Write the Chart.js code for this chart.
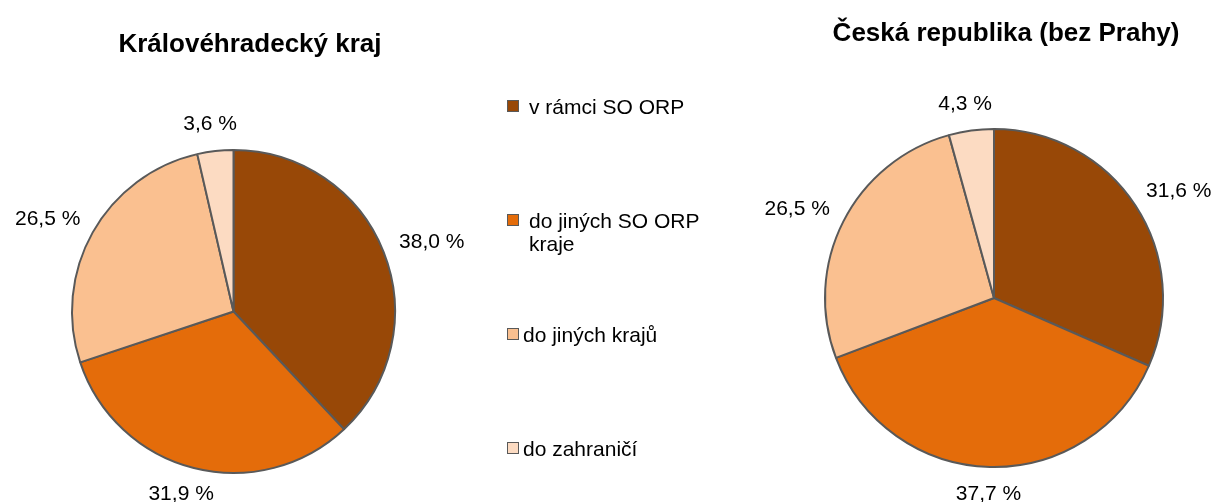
<!DOCTYPE html>
<html>
<head>
<meta charset="utf-8">
<script src="https://cdn.jsdelivr.net/npm/chart.js@4.4.1/dist/chart.umd.min.js"></script>
<style>
  html, body { margin: 0; padding: 0; background: #fff; }
  #wrap { position: relative; width: 1219px; height: 502px; overflow: hidden;
          font-family: Arial, "Liberation Sans", sans-serif; }
  #wrap canvas { position: absolute; left: 0; top: 0; }
  .item { position: absolute; left: 507px; display: flex; align-items: flex-start;
          font-size: 21px; line-height: 23px; color: #000; }
  .box { width: 10px; height: 10px; border: 1px solid #595959; margin-top: 5.5px;
         flex: none; }
  .txt { width: 190px; }
</style>
</head>
<body>
<div id="wrap">
  <canvas id="pieKraj" width="1219" height="502"></canvas>
  <canvas id="pieCR" width="1219" height="502"></canvas>
  <div id="legend"></div>
</div>
<script>
// ── data ──────────────────────────────────────
const categories = ['v rámci SO ORP', 'do jiných SO ORP kraje', 'do jiných krajů', 'do zahraničí'];
const krajValues = [38.0, 31.9, 26.5, 3.6];
const crValues = [31.6, 37.7, 26.5, 4.3];
const titles = ['Královéhradecký kraj', 'Česká republika (bez Prahy)'];

const COLORS = ['#984807', '#E46C0A', '#FAC090', '#FCDBC2'];
const EDGE = '#595959';
const W = 1219, H = 502;
const FONT = 'Arial, "Liberation Sans", sans-serif';
const LEGEND_GAP = [10, 10, 4, 4];   // excel left the last two entries tighter

// percent labels outside the slices + chart title
const pieText = {
  id: 'pieText',
  afterDatasetsDraw(chart, args, opts) {
    const ctx = chart.ctx;
    const meta = chart.getDatasetMeta(0);
    const values = chart.data.datasets[0].data;
    ctx.save();
    ctx.fillStyle = '#000';
    ctx.font = '21px ' + FONT;
    ctx.textAlign = 'center';
    ctx.textBaseline = 'middle';
    meta.data.forEach((arc, i) => {
      const p = arc.getProps(['x', 'y', 'startAngle', 'endAngle', 'outerRadius'], true);
      const mid = (p.startAngle + p.endAngle) / 2;
      const ux = Math.cos(mid), uy = Math.sin(mid);
      const txt = values[i].toFixed(1).replace('.', ',') + ' %';
      const w = ctx.measureText(txt).width;
      const d = p.outerRadius + opts.gap;
      ctx.fillText(txt, p.x + ux * (d + w / 2), p.y + uy * (d + 8));
    });
    ctx.font = 'bold 26px ' + FONT;
    ctx.textBaseline = 'alphabetic';
    ctx.fillText(opts.title, opts.titleX, opts.titleY);
    ctx.restore();
  }
};

function makePie(id, values, title, box, titleX, titleY) {
  return new Chart(document.getElementById(id), {
    type: 'pie',
    data: {
      labels: categories,
      datasets: [{
        data: values,
        backgroundColor: COLORS,
        borderColor: EDGE,
        borderWidth: 2,
        hoverOffset: 0,
      }],
    },
    options: {
      responsive: false,
      animation: false,
      events: [],
      layout: {
        padding: {
          left: box.left, top: box.top,
          right: W - box.left - box.size, bottom: H - box.top - box.size,
        },
      },
      plugins: {
        legend: { display: false },
        tooltip: { enabled: false },
        pieText: { title, titleX, titleY, gap: 19 },
      },
    },
    plugins: [pieText],
  });
}

makePie('pieKraj', krajValues, titles[0], { left: 71, top: 149, size: 325 }, 250, 52);
makePie('pieCR', crValues, titles[1], { left: 824, top: 128, size: 340 }, 1006, 41);

// ── legend (shared by both pies) ──────────────
const legend = document.getElementById('legend');
categories.forEach((name, i) => {
  const item = document.createElement('div');
  item.className = 'item';
  item.style.top = (106 + i * 114 - 11.5) + 'px';
  const box = document.createElement('span');
  box.className = 'box';
  box.style.background = COLORS[i];
  box.style.marginRight = LEGEND_GAP[i] + 'px';
  const txt = document.createElement('span');
  txt.className = 'txt';
  txt.textContent = name;
  item.appendChild(box);
  item.appendChild(txt);
  legend.appendChild(item);
});
</script>
</body>
</html>
